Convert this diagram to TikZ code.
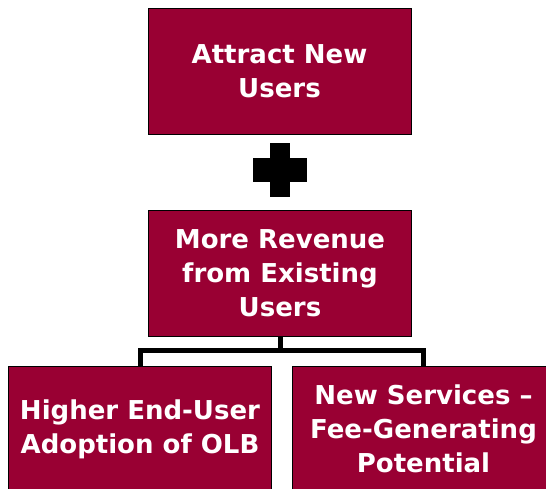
\documentclass[tikz,border=0pt]{standalone}
\usepackage{fontspec}
\setmainfont{DejaVu Sans}
\definecolor{wine}{HTML}{990033}
\begin{document}
\begin{tikzpicture}[x=1pt,y=-1pt,myv/.style={rectangle, draw=black, fill=wine, text=white, line width=0.8pt, minimum width=263pt, minimum height=126pt, align=center, font=\bfseries\fontsize{26}{34}\selectfont},myl/.style={line width=5pt}]
  \useasboundingbox (0,0) rectangle (546,489);
  \clip (0,0) rectangle (546,489);

  \node[myv] (a) at (279.5,71) {Attract New\\Users};
  \node[myv] (b) at (280,273) {More Revenue\\from Existing\\Users};
  \node[myv] (c) at (140,429) {Higher End-User\\Adoption of OLB};
  \node[myv] (d) at (423.5,429) {New Services --\\Fee-Generating\\Potential};

  % plus sign between the two upper boxes
  \coordinate (p) at (280,170);
  \fill ([shift={(-10,-27)}]p) rectangle ([shift={(10,27)}]p);
  \fill ([shift={(-27,-12)}]p) rectangle ([shift={(27,12)}]p);

  \draw[myl] (b.south) -- ++(0,14) -| (c.north);
  \draw[myl] (b.south) -- ++(0,14) -| (d.north);

\end{tikzpicture}
\end{document}
